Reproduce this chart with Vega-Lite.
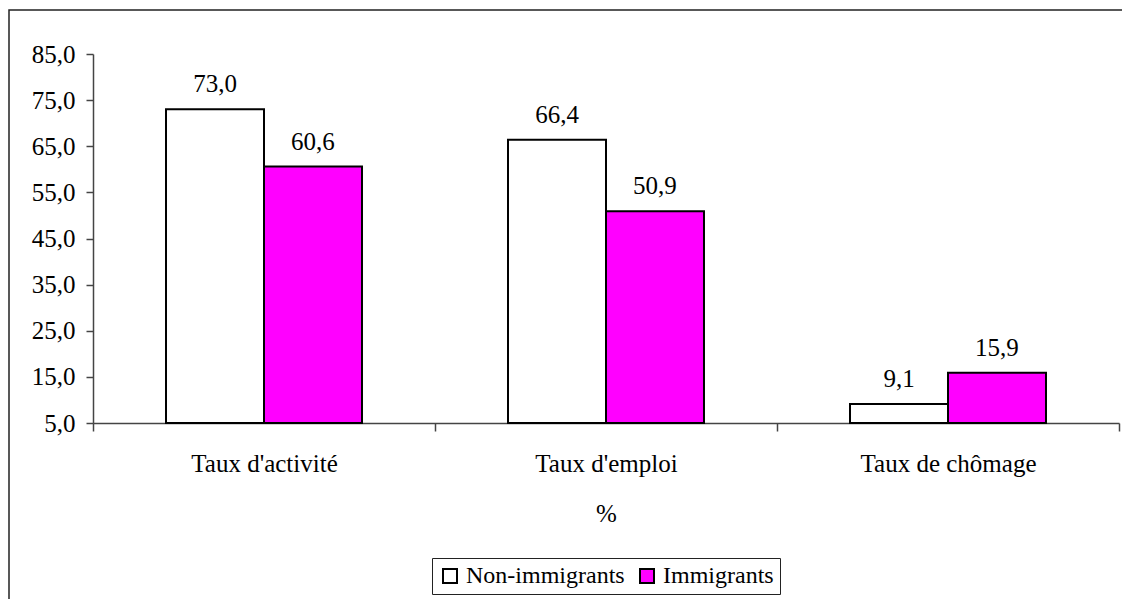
{
  "$schema": "https://vega.github.io/schema/vega-lite/v6.json",
  "width": 1115,
  "height": 589,
  "autosize": {"type": "none"},
  "padding": {"left": 9, "top": 10, "right": 0, "bottom": 0},
  "background": "white",
  "view": {"stroke": "#222222", "strokeWidth": 1.5, "fill": "white", "strokeDash": [1113, 1706, 589, 20]},
  "config": {
    "font": "Liberation Serif",
    "locale": {"number": {"decimal": ",", "thousands": " ", "grouping": [3], "currency": ["", " €"]}},
    "axis": {
      "labelFont": "Liberation Serif",
      "labelFontSize": 25,
      "labelColor": "black",
      "titleFont": "Liberation Serif",
      "titleFontSize": 25,
      "titleFontWeight": "normal",
      "titleColor": "black",
      "domainColor": "#444444",
      "domainWidth": 1.5,
      "tickColor": "#444444",
      "tickWidth": 1.5,
      "grid": false
    }
  },
  "data": {
    "values": [
      {"categorie": "Taux d'activité", "groupe": "Non-immigrants", "valeur": 73.0},
      {"categorie": "Taux d'activité", "groupe": "Immigrants", "valeur": 60.6},
      {"categorie": "Taux d'emploi", "groupe": "Non-immigrants", "valeur": 66.4},
      {"categorie": "Taux d'emploi", "groupe": "Immigrants", "valeur": 50.9},
      {"categorie": "Taux de chômage", "groupe": "Non-immigrants", "valeur": 9.1},
      {"categorie": "Taux de chômage", "groupe": "Immigrants", "valeur": 15.9}
    ]
  },
  "encoding": {
    "x": {
      "field": "categorie",
      "type": "nominal",
      "sort": ["Taux d'activité", "Taux d'emploi", "Taux de chômage"],
      "scale": {"range": [84, 1110], "paddingInner": 0, "paddingOuter": 0},
      "axis": {
        "title": "%",
        "labelAngle": 0,
        "offset": -176,
        "tickBand": "extent",
        "tickSize": 8,
        "labelPadding": 20,
        "titlePadding": 25
      }
    },
    "xOffset": {
      "field": "groupe",
      "type": "nominal",
      "sort": ["Non-immigrants", "Immigrants"],
      "scale": {"paddingInner": 0, "paddingOuter": 0.745}
    },
    "y": {
      "field": "valeur",
      "type": "quantitative",
      "scale": {"domain": [5, 85], "range": [413, 44], "zero": false, "nice": false},
      "axis": {
        "title": null,
        "values": [5, 15, 25, 35, 45, 55, 65, 75, 85],
        "format": ".1f",
        "offset": -84,
        "tickSize": 7,
        "labelPadding": 11
      }
    }
  },
  "layer": [
    {
      "mark": {"type": "bar", "stroke": "black", "strokeWidth": 2},
      "encoding": {
        "y2": {"datum": 5},
        "color": {
          "field": "groupe",
          "type": "nominal",
          "sort": ["Non-immigrants", "Immigrants"],
          "scale": {"domain": ["Non-immigrants", "Immigrants"], "range": ["white", "#FF00FF"]},
          "legend": {
            "title": null,
            "orient": "none",
            "legendX": 423,
            "legendY": 548,
            "direction": "horizontal",
            "strokeColor": "#222222",
            "fillColor": "white",
            "padding": 6,
            "symbolType": "square",
            "symbolSize": 196,
            "symbolStrokeColor": "black",
            "symbolStrokeWidth": 2,
            "symbolOpacity": 1,
            "labelFont": "Liberation Serif",
            "labelFontSize": 24,
            "labelColor": "black",
            "labelOffset": 4,
            "columnPadding": 10
          }
        }
      }
    },
    {
      "mark": {"type": "text", "baseline": "alphabetic", "dy": -17, "fontSize": 25, "color": "black", "font": "Liberation Serif"},
      "encoding": {
        "text": {"field": "valeur", "type": "quantitative", "format": ".1f"}
      }
    }
  ]
}
